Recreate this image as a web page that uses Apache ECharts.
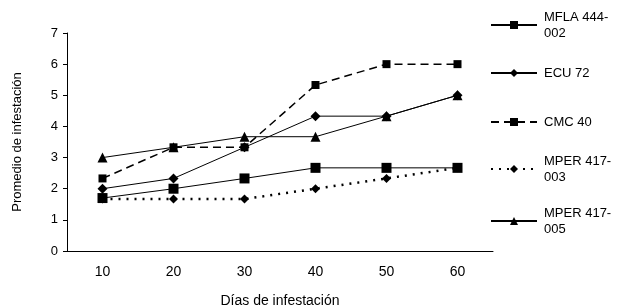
<!DOCTYPE html>
<html><head><meta charset="utf-8">
<script src="https://cdn.jsdelivr.net/npm/echarts@6/dist/echarts.min.js"></script>
<style>html,body{margin:0;padding:0;background:#fff}#c{width:619px;height:308px}</style>
</head><body><div id="c"></div>
<script>
var categories = ['10','20','30','40','50','60'];
var seriesNames = ['MFLA 444-\n002','ECU 72','CMC 40','MPER 417-\n003','MPER 417-\n005'];
var mfla = [1.7, 2.0, 2.33, 2.67, 2.67, 2.67];
var ecu = [2.0, 2.33, 3.33, 4.33, 4.33, 5.0];
var cmc = [2.33, 3.33, 3.33, 5.33, 6.0, 6.0];
var mper003 = [1.67, 1.67, 1.67, 2.0, 2.33, 2.67];
var mper005 = [3.0, 3.33, 3.67, 3.67, 4.33, 5.0];
var yTicks = [0, 7, 1];

var font = 'Liberation Sans, Arial, sans-serif';
var chart = echarts.init(document.getElementById('c'));
function mk(name, data, symbol, size, lineType, width) {
  return { name: name, type: 'line', data: data, symbol: symbol, symbolSize: size,
    itemStyle: { color: '#000' },
    lineStyle: { color: '#000', width: width, type: lineType },
    animation: false };
}
var legendTops = [9, 65, 114, 153, 205];
var legends = seriesNames.map(function (n, i) {
  return { data: [n], left: 490, top: legendTops[i], itemWidth: 46, itemHeight: 10,
    itemGap: 0, padding: 0, orient: 'vertical', selectedMode: false,
    textStyle: { fontFamily: font, fontSize: 13, color: '#000', lineHeight: 16, padding: [0, 0, 0, 2] } };
});
chart.setOption({
  animation: false,
  grid: { left: 67, right: 126, top: 33, bottom: 57, containLabel: false, outerBoundsMode: 'none' },
  legend: legends,
  xAxis: { type: 'category', data: categories, boundaryGap: true,
    name: 'Días de infestación', nameLocation: 'middle', nameGap: 43,
    nameTextStyle: { fontFamily: font, fontSize: 14, color: '#000' },
    axisLine: { lineStyle: { color: '#000', width: 1 } },
    axisTick: { length: 5, lineStyle: { color: '#000' } },
    axisLabel: { fontFamily: font, fontSize: 14, color: '#000', margin: 14 } },
  yAxis: { type: 'value', min: yTicks[0], max: yTicks[1], interval: yTicks[2],
    name: 'Promedio de infestación', nameLocation: 'middle', nameGap: 43,
    nameTextStyle: { fontFamily: font, fontSize: 13, color: '#000' },
    splitLine: { show: false },
    axisLine: { show: true, lineStyle: { color: '#000', width: 1 } },
    axisTick: { show: true, length: 4, lineStyle: { color: '#000' } },
    axisLabel: { fontFamily: font, fontSize: 13, color: '#000', margin: 9 } },
  series: [
    mk(seriesNames[0], mfla, 'rect', 10, 'solid', 1),
    mk(seriesNames[1], ecu, 'diamond', 10, 'solid', 1),
    mk(seriesNames[2], cmc, 'rect', 8, [8, 5], 1.5),
    mk(seriesNames[3], mper003, 'diamond', 9, [2, 6], 2.5),
    mk(seriesNames[4], mper005, 'triangle', 10, 'solid', 1)
  ]
});
</script></body></html>
